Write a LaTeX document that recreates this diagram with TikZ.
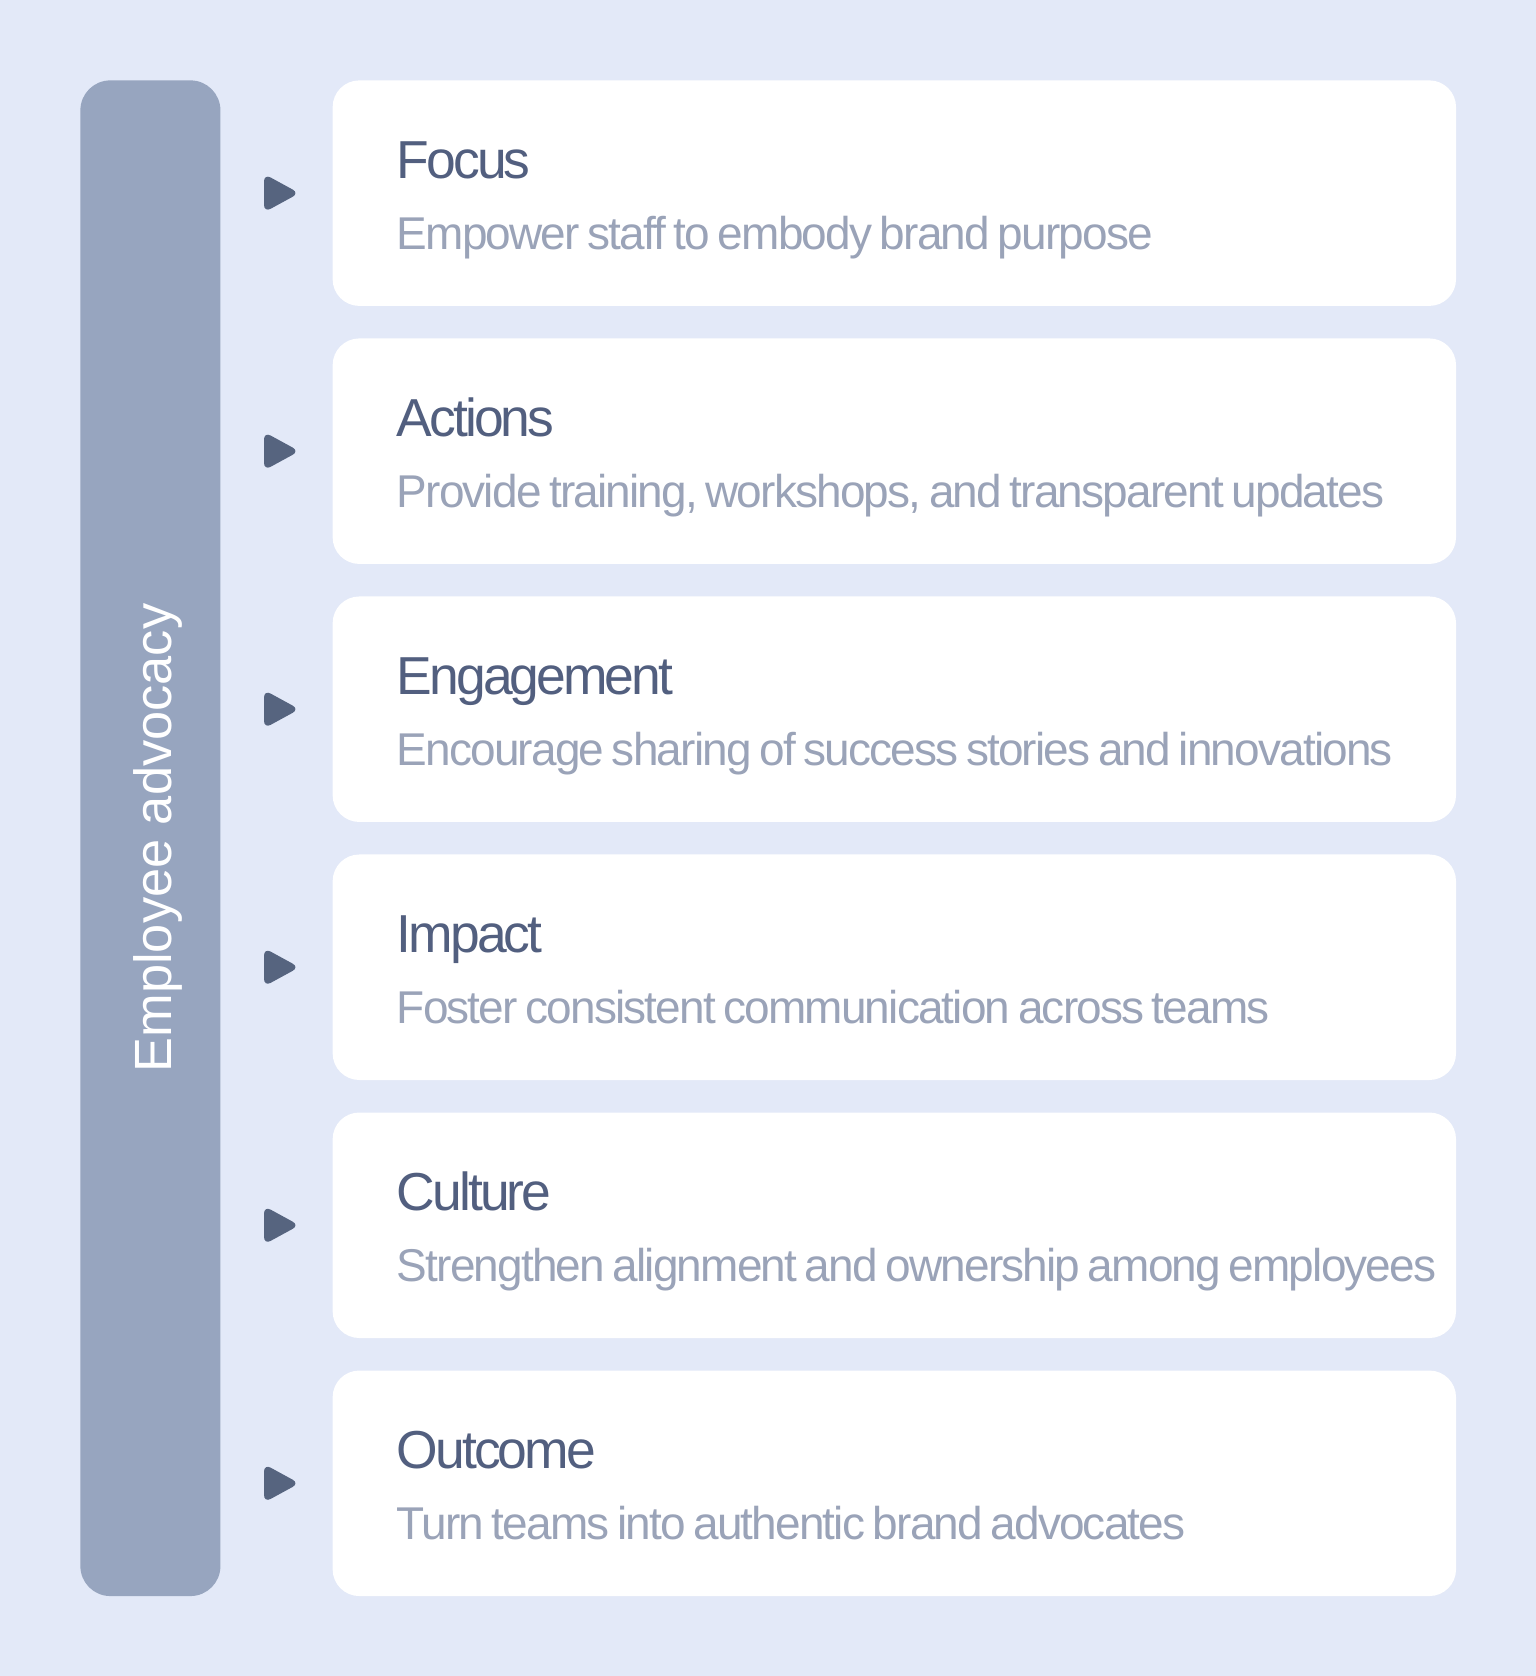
\documentclass[tikz,border=0pt]{standalone}
\usepackage{fontspec}
\setmainfont{Liberation Sans}
\newfontfamily\titlefont{Liberation Sans}[LetterSpace=-5.5]
\newfontfamily\descfont{Liberation Sans}[LetterSpace=-4,WordSpace=0.7]
\usetikzlibrary{positioning}

\definecolor{pagebg}{HTML}{E3E9F8}
\definecolor{barfill}{HTML}{97A5BF}
\definecolor{titlecol}{HTML}{525F7F}
\definecolor{desccol}{HTML}{9AA3B8}
\definecolor{markcol}{HTML}{56647F}

\tikzstyle{barbox}=[fill=barfill,
                    rounded corners=28pt,
                    minimum width=131pt,
                    minimum height=1418pt,
                    inner sep=0pt,
                    anchor=north west]
\tikzstyle{cardbox}=[fill=white,
                     rounded corners=25pt,
                     minimum width=1051pt,
                     minimum height=211pt,
                     inner sep=0pt,
                     anchor=north west]
\tikzstyle{titletext}=[anchor=base west, inner sep=0pt,
                       text=titlecol, font=\titlefont\fontsize{50}{56}\selectfont]
\tikzstyle{desctext}=[anchor=base west, inner sep=0pt,
                      text=desccol, font=\descfont\fontsize{43}{50}\selectfont]

\begin{document}
\begin{tikzpicture}[x=1pt,y=-1pt]
    \useasboundingbox[fill=pagebg] (0,0) rectangle (1437,1568);
    \node [barbox] (bar) at (75,75) {};
    \node [rotate=90, anchor=base, inner sep=0pt, text=white,
           font=\fontsize{49}{54}\selectfont] (label) at (160,784) {Employee advocacy};
    % six stages
    \foreach \title/\desc [count=\i from 0] in {
        Focus/Empower staff to embody brand purpose,
        Actions/{Provide training, workshops, and transparent updates},
        Engagement/Encourage sharing of success stories and innovations,
        Impact/Foster consistent communication across teams,
        Culture/Strengthen alignment and ownership among employees,
        Outcome/Turn teams into authentic brand advocates}
    {
        \node [cardbox] (card\i) at (311,75+241.4*\i) {};
        \node [titletext] (title\i) at ([xshift=60pt,yshift=-92pt]card\i.north west) {\title};
        \node [desctext] (desc\i) at ([xshift=60pt,yshift=-158pt]card\i.north west) {\desc};
        \fill [markcol, rounded corners=7pt]
            ([xshift=-64pt,yshift=18pt]card\i.west) --
            ([xshift=-31pt]card\i.west) --
            ([xshift=-64pt,yshift=-18pt]card\i.west) -- cycle;
    }
\end{tikzpicture}
\end{document}
